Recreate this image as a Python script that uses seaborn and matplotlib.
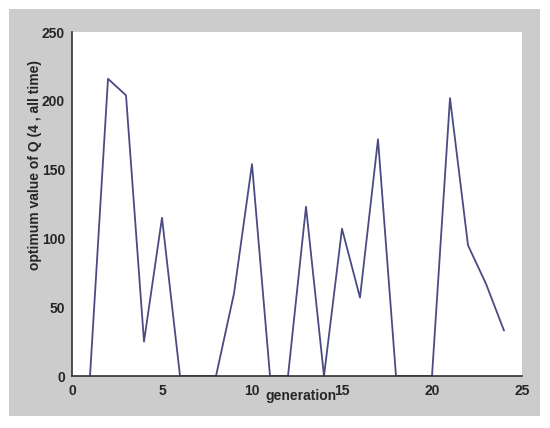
import matplotlib
matplotlib.use("Agg")
import matplotlib.pyplot as plt
import seaborn as sns
import pandas as pd
from matplotlib.patches import Rectangle

generation = list(range(1, 25))
q_values = [0, 216, 204, 25, 115, 0, 0, 0, 60, 154, 0, 0, 123, 0, 107, 57,
            172, 0, 0, 0, 202, 95, 67, 33]
x_ticks = [0, 5, 10, 15, 20, 25]
y_ticks = [0, 50, 100, 150, 200, 250]

sns.set_style("white")
plt.rcParams['font.family'] = ['Liberation Sans Narrow', 'Liberation Sans', 'DejaVu Sans']

df = pd.DataFrame({"generation": generation, "q": q_values})

fig = plt.figure(figsize=(5.5, 4.28), dpi=100)
fig.patch.set_facecolor("white")
fig.patches.append(Rectangle((9 / 550, 1 - 416 / 428), 531 / 550, 407 / 428,
                             transform=fig.transFigure, facecolor="#cccccc",
                             edgecolor="none", zorder=-10))
ax = fig.add_axes([72 / 550, 1 - 376 / 428, 450 / 550, 344 / 428])
ax.set_facecolor("white")

sns.lineplot(data=df, x="generation", y="q", ax=ax, color="#4b4b82",
             linewidth=1.3)

ax.set_xlim(0, 25)
ax.set_ylim(0, 250)
ax.set_xticks(x_ticks)
ax.set_yticks(y_ticks)
ax.set_xticklabels([str(t) for t in x_ticks], fontsize=10, fontweight="bold")
ax.set_yticklabels([str(t) for t in y_ticks], fontsize=10, fontweight="bold")
ax.tick_params(direction="in", length=4, width=1, color="#333333")
ax.tick_params(axis="y", pad=5)
ax.tick_params(axis="x", pad=6)
for side in ["top", "right"]:
    ax.spines[side].set_visible(False)
for side in ["left", "bottom"]:
    ax.spines[side].set_color("#333333")
    ax.spines[side].set_linewidth(1.2)

ax.set_xlabel("")
ax.set_ylabel("")
fig.text(301 / 550, 1 - 396 / 428, "generation", ha="center", va="center",
         fontsize=10, fontweight="bold")
fig.text(35 / 550, 1 - 165 / 428, "optimum value of Q (4 , all time)",
         ha="center", va="center", rotation=90, fontsize=10, fontweight="bold",
         family=["Liberation Sans", "DejaVu Sans"])

fig.savefig("out.png", dpi=100, facecolor="white")
